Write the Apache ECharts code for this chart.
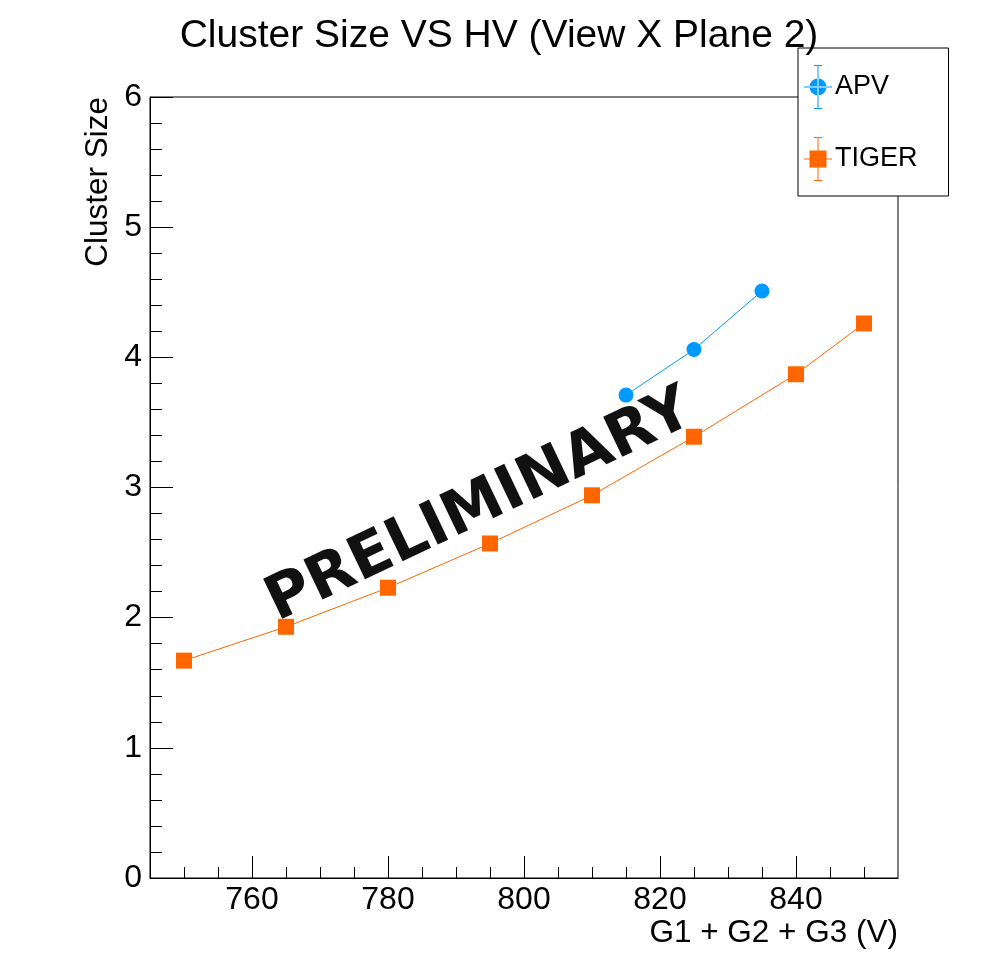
<!DOCTYPE html>
<html lang="en">
<head>
    <meta charset="utf-8">
    <title>Cluster Size VS HV</title>
    <script src="https://cdn.jsdelivr.net/npm/echarts@6.0.0/dist/echarts.min.js"></script>
    <style>
        html, body { margin: 0; padding: 0; background: #fff; }
    </style>
</head>
<body>
<div id="main" style="width:998px;height:976px;"></div>
<script type="text/javascript">
    // values
    var apvHV = [815, 825, 835];
    var apvSize = [3.71, 4.06, 4.51];
    var tigerHV = [750, 765, 780, 795, 810, 825, 840, 850];
    var tigerSize = [1.67, 1.93, 2.23, 2.57, 2.94, 3.39, 3.87, 4.26];
    var xMajorTicks = [760, 780, 800, 820, 840];
    var xMinorTicks = [750, 755, 765, 770, 775, 785, 790, 795, 805, 810, 815, 825, 830, 835, 845, 850];

    var font = 'Liberation Sans, Arial, Helvetica, sans-serif';

    function pairs(xs, ys) {
        var out = [];
        for (var i = 0; i < xs.length; i++) out.push([xs[i], ys[i]]);
        return out;
    }

    // legend icons: marker with error-bar cross, box 28x44
    var bars = 'M13.5,0 h1 v44 h-1 Z M10,0 h8 v1 h-8 Z M10,43 h8 v1 h-8 Z M0,21.5 h28 v1 h-28 Z ';
    var circleIcon = 'path://' + bars + 'M5.5,22 a8.5,8.5 0 1,0 17,0 a8.5,8.5 0 1,0 -17,0 Z';
    var squareIcon = 'path://' + bars + 'M5.5,13.5 h17 v17 h-17 Z';

    var myChart = echarts.init(document.getElementById('main'), null, {renderer: 'canvas'});

    var option = {
        animation: false,
        backgroundColor: '#fff',
        title: {
            text: 'Cluster Size VS HV (View X Plane 2)',
            left: 'center',
            top: 12,
            textStyle: {fontFamily: font, fontSize: 39, fontWeight: 'normal', color: '#000'}
        },
        legend: {
            orient: 'vertical',
            left: 798,
            top: 48,
            padding: [17, 31, 15, 6],
            borderColor: '#000',
            borderWidth: 1,
            borderRadius: 0,
            backgroundColor: '#fff',
            itemWidth: 28,
            itemHeight: 44,
            itemGap: 28,
            itemStyle: {borderWidth: 0},
            textStyle: {fontFamily: font, fontSize: 27, color: '#000', padding: [2, 0, 0, -2]},
            data: [
                {name: 'APV', icon: circleIcon},
                {name: 'TIGER', icon: squareIcon}
            ]
        },
        grid: {
            left: 150,
            right: 100,
            top: 97,
            bottom: 98,
            show: true,
            borderColor: '#000',
            borderWidth: 1,
            backgroundColor: 'transparent'
        },
        xAxis: [
            {
                type: 'value',
                min: 745,
                max: 855,
                axisLine: {onZero: false, lineStyle: {color: '#000', width: 1}},
                axisTick: {inside: true, length: 22, customValues: xMajorTicks, lineStyle: {color: '#000'}},
                axisLabel: {customValues: xMajorTicks, fontFamily: font, fontSize: 32, color: '#000', margin: 6},
                splitLine: {show: false}
            },
            {
                type: 'value',
                position: 'bottom',
                min: 745,
                max: 855,
                axisLine: {show: false},
                axisTick: {inside: true, length: 11, customValues: xMinorTicks, lineStyle: {color: '#000'}},
                axisLabel: {show: false},
                splitLine: {show: false}
            }
        ],
        yAxis: {
            type: 'value',
            min: 0,
            max: 6,
            interval: 1,
            axisLine: {show: true, onZero: false, lineStyle: {color: '#000', width: 1}},
            axisTick: {show: true, inside: true, length: 23, lineStyle: {color: '#000'}},
            minorTick: {show: true, splitNumber: 5, length: 12, lineStyle: {color: '#000'}},
            axisLabel: {fontFamily: font, fontSize: 32, color: '#000', margin: 8},
            splitLine: {show: false}
        },
        graphic: [
            {
                type: 'text',
                z: 0,
                x: 480,
                y: 507,
                rotation: 25.5 * Math.PI / 180,
                style: {
                    text: 'PRELIMINARY',
                    font: 'bold 61px "DejaVu Sans", Verdana, sans-serif',
                    fill: '#111',
                    align: 'center',
                    verticalAlign: 'middle',
                    textAlign: 'center',
                    textVerticalAlign: 'middle'
                }
            },
            {
                type: 'text',
                x: 898,
                y: 933,
                style: {
                    text: 'G1 + G2 + G3 (V)',
                    font: '31.5px ' + font,
                    fill: '#000',
                    align: 'right',
                    verticalAlign: 'middle',
                    textAlign: 'right',
                    textVerticalAlign: 'middle'
                }
            },
            {
                type: 'text',
                x: 98,
                y: 97,
                rotation: Math.PI / 2,
                style: {
                    text: 'Cluster Size',
                    font: '31.5px ' + font,
                    fill: '#000',
                    align: 'right',
                    verticalAlign: 'middle',
                    textAlign: 'right',
                    textVerticalAlign: 'middle'
                }
            }
        ],
        series: [
            {
                name: 'APV',
                type: 'line',
                data: pairs(apvHV, apvSize),
                symbol: 'circle',
                symbolSize: 15,
                z: 5,
                itemStyle: {color: '#0099ff', borderWidth: 0},
                lineStyle: {color: '#0099ff', width: 1}
            },
            {
                name: 'TIGER',
                type: 'line',
                data: pairs(tigerHV, tigerSize),
                symbol: 'rect',
                symbolSize: 16,
                z: 5,
                itemStyle: {color: '#ff6600', borderWidth: 0},
                lineStyle: {color: '#ff6600', width: 1}
            }
        ]
    };

    myChart.setOption(option);
</script>
</body>
</html>
